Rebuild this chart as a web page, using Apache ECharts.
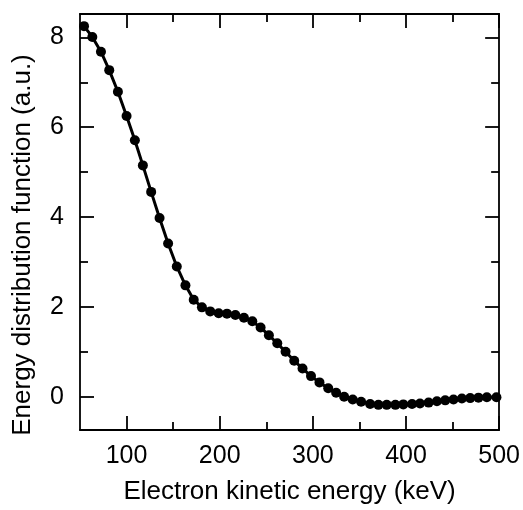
<!DOCTYPE html>
<html>
<head>
<meta charset="utf-8">
<script src="https://cdn.jsdelivr.net/npm/echarts@6/dist/echarts.min.js"></script>
<style>html,body{margin:0;padding:0;background:#fff}#c{width:523px;height:510px}</style>
</head>
<body>
<div id="c"></div>
<script>
// Electron kinetic energy (keV)
const energy = [54.3, 63.2, 72.5, 81.4, 90.7, 100.0, 108.9, 117.5, 126.4, 135.4,
  144.6, 153.9, 163.2, 172.1, 180.9, 189.8, 198.9, 207.8, 216.8, 226.0,
  235.0, 243.9, 252.8, 261.8, 270.7, 280.0, 288.9, 298.0, 307.1, 316.5,
  325.0, 333.6, 342.8, 351.8, 361.5, 370.4, 379.3, 388.6, 397.1, 406.5,
  415.0, 424.3, 433.2, 442.1, 451.0, 460.0, 468.9, 477.8, 486.8, 497.1];
// Energy distribution function (a.u.)
const edf = [8.25, 8.01, 7.68, 7.27, 6.79, 6.25, 5.71, 5.15, 4.56, 3.98,
  3.41, 2.90, 2.48, 2.16, 1.99, 1.90, 1.86, 1.85, 1.82, 1.76,
  1.68, 1.54, 1.37, 1.19, 1.00, 0.80, 0.63, 0.46, 0.32, 0.19,
  0.09, 0.00, -0.06, -0.11, -0.16, -0.18, -0.18, -0.18, -0.17, -0.16,
  -0.15, -0.13, -0.10, -0.08, -0.06, -0.04, -0.03, -0.02, -0.01, -0.01];
const xMajor = [100, 200, 300, 400, 500];
const xMinor = [150, 250, 350, 450];
const yMajor = [0, 2, 4, 6, 8];
const yMinor = [1, 3, 5, 7];

const FONT = "'Liberation Sans', Arial, sans-serif";
const X_MIN = 50, X_MAX = 500, Y_MIN = -0.74, Y_MAX = 8.52;

function xAx(pos, ticks, len, labels, showLine, extra) {
  return Object.assign({
    type: 'value', position: pos, min: X_MIN, max: X_MAX,
    axisLine: { show: showLine, onZero: false, lineStyle: { color: '#000', width: 1.8 } },
    axisTick: { show: true, inside: true, length: len, customValues: ticks, lineStyle: { color: '#000', width: 1.8 } },
    axisLabel: labels ? { show: true, customValues: ticks, margin: 14, fontSize: 25, color: '#000', fontFamily: FONT } : { show: false },
    splitLine: { show: false }
  }, extra || {});
}
function yAx(pos, ticks, len, labels, showLine, extra) {
  return Object.assign({
    type: 'value', position: pos, min: Y_MIN, max: Y_MAX,
    axisLine: { show: showLine, onZero: false, lineStyle: { color: '#000', width: 1.8 } },
    axisTick: { show: true, inside: true, length: len, customValues: ticks, lineStyle: { color: '#000', width: 1.8 } },
    axisLabel: labels ? { show: true, customValues: ticks, margin: 16, fontSize: 25, color: '#000', fontFamily: FONT } : { show: false },
    splitLine: { show: false }
  }, extra || {});
}

const chart = echarts.init(document.getElementById('c'), null, { renderer: 'canvas' });
chart.setOption({
  animation: false,
  backgroundColor: '#fff',
  grid: { left: 80, right: 23, top: 14, bottom: 75, containLabel: false },
  xAxis: [
    xAx('bottom', xMajor, 14, true, true, {
      name: 'Electron kinetic energy (keV)', nameLocation: 'middle', nameGap: 49,
      nameTextStyle: { fontSize: 26, color: '#000', fontFamily: FONT }
    }),
    xAx('bottom', xMinor, 8, false, false),
    xAx('top', xMajor, 14, false, true),
    xAx('top', xMinor, 8, false, false)
  ],
  yAxis: [
    yAx('left', yMajor, 14, true, true, {
      name: 'Energy distribution function (a.u.)', nameLocation: 'middle', nameGap: 44,
      nameTextStyle: { fontSize: 26, color: '#000', fontFamily: FONT, padding: [0, 46, 0, 0] }
    }),
    yAx('left', yMinor, 8, false, false),
    yAx('right', yMajor, 14, false, true),
    yAx('right', yMinor, 8, false, false)
  ],
  series: [{
    type: 'line',
    xAxisIndex: 0, yAxisIndex: 0,
    data: energy.map((e, i) => [e, edf[i]]),
    symbol: 'circle', symbolSize: 10,
    itemStyle: { color: '#000' },
    lineStyle: { color: '#000', width: 3 },
    smooth: false
  }]
});
</script>
</body>
</html>
